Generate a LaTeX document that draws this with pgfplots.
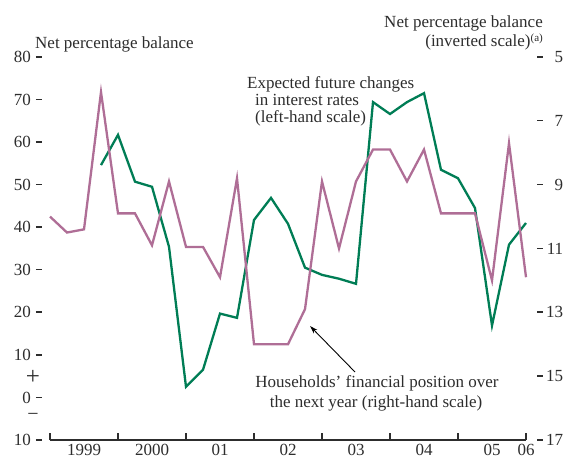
\documentclass[border=0pt]{standalone}
\usepackage{fontspec}
\setmainfont{Liberation Serif}
\usepackage{pgfplots}
\usepackage{pgfplotstable}
\pgfplotsset{compat=1.18}
\usetikzlibrary{arrows.meta}
\definecolor{ratesgreen}{RGB}{0,125,85}
\definecolor{hhpink}{RGB}{175,110,150}
\definecolor{inkgrey}{RGB}{45,45,45}
\newcommand{\lbl}{\fontsize{17}{19}\selectfont}
\newcommand{\tickdash}{\rule[4.9pt]{6pt}{1.6pt}}

% quarter index: 0 = 1999 Q1
\pgfplotstableread{
q  val
3  54.6
4  61.7
5  50.7
6  49.5
7  35.4
8  2.5
9  6.5
10 19.7
11 18.7
12 41.7
13 46.9
14 40.8
15 30.5
16 28.8
17 27.9
18 26.7
19 69.4
20 66.6
21 69.4
22 71.5
23 53.5
24 51.5
25 44.5
26 16.9
27 35.9
28 41.0
}\ratestable

% right-hand scale (inverted)
\pgfplotstableread{
q  val
0  10.0
1  10.5
2  10.4
3  6.1
4  9.9
5  9.9
6  10.9
7  8.9
8  10.95
9  10.95
10 11.9
11 8.8
12 14.0
13 14.0
14 14.0
15 12.9
16 8.9
17 11.0
18 8.9
19 7.9
20 7.9
21 8.9
22 7.9
23 9.9
24 9.9
25 9.9
26 12.0
27 7.7
28 11.9
}\hhtable

\begin{document}
\begin{tikzpicture}[font=\lbl, text=inkgrey]
\begin{axis}[
    name=L, scale only axis, width=476pt, height=383pt,
    xmin=0, xmax=28, ymin=-10, ymax=80,
    axis x line*=bottom, axis y line*=left,
    x axis line style={inkgrey, line width=1.2pt},
    y axis line style={draw=none},
    xtick={0,4,...,28}, xticklabels={},
    xtick align=inside, major tick length=7pt,
    x tick style={inkgrey, line width=1.2pt},
    extra x ticks={2,6,10,14,18,22,26,28},
    extra x tick labels={1999,2000,01,02,03,04,05,06},
    extra x tick style={major tick length=0pt,
        xticklabel style={anchor=base, inner sep=0pt, yshift=-15.5pt}},
    ytick={-10,0,...,80},
    y tick style={draw=none},
    yticklabel={\pgfmathparse{abs(\tick)}\pgfmathprintnumber{\pgfmathresult}\hspace{5pt}\tickdash},
    yticklabel style={anchor=east, inner sep=0pt, xshift=-8pt},
    /pgf/number format/assume math mode=true,
    tick label style={font=\lbl, text=inkgrey},
    clip=false]
\addplot[ratesgreen, line width=2.3pt, line join=miter] table[x=q, y=val] {\ratestable};
\end{axis}
\begin{axis}[
    scale only axis, width=476pt, height=383pt,
    xmin=0, xmax=28, ymin=5, ymax=17, y dir=reverse,
    hide x axis, axis y line*=right,
    y axis line style={draw=none},
    ytick={5,7,...,17},
    y tick style={draw=none},
    yticklabel={\tickdash\makebox[20pt][r]{\pgfmathprintnumber{\tick}}},
    yticklabel style={anchor=west, inner sep=0pt, xshift=11pt},
    /pgf/number format/assume math mode=true,
    tick label style={font=\lbl, text=inkgrey},
    clip=false]
\addplot[hhpink, line width=2.3pt, line join=miter] table[x=q, y=val] {\hhtable};
\end{axis}
\pgfresetboundingbox
\path ([xshift=-50pt,yshift=-19pt]L.south west) rectangle ([xshift=40pt,yshift=57pt]L.north east);
% annotations, placed in pixel units of the reference
\begin{scope}[shift={([xshift=-50pt,yshift=440pt]L.south west)}, x=1pt, y=-1pt,
    every node/.style={inner sep=0pt}]
\node[anchor=base west] at (35,49) {Net percentage balance};
\node[anchor=base east] at (543,28) {Net percentage balance};
\node[anchor=base east] at (543,47) {(inverted scale)\raisebox{5pt}{\fontsize{11}{11}\selectfont(a)}};
\node[anchor=base west] at (247,89) {Expected future changes};
\node[anchor=base west] at (255,106) {in interest rates};
\node[anchor=base west] at (255,123) {(left-hand scale)};
\node[anchor=base] at (377,388) {Households' financial position over};
\node[anchor=base] at (376,408) {the next year (right-hand scale)};
\node at (33,377) {\fontsize{25}{25}\selectfont +};
\node at (33,417) {\fontsize{20}{20}\selectfont\symbol{"2212}};
\draw[-{Stealth[length=8pt,width=5pt]}, line width=0.9pt, black] (355,372) -- (310,326);
\end{scope}
\end{tikzpicture}
\end{document}
